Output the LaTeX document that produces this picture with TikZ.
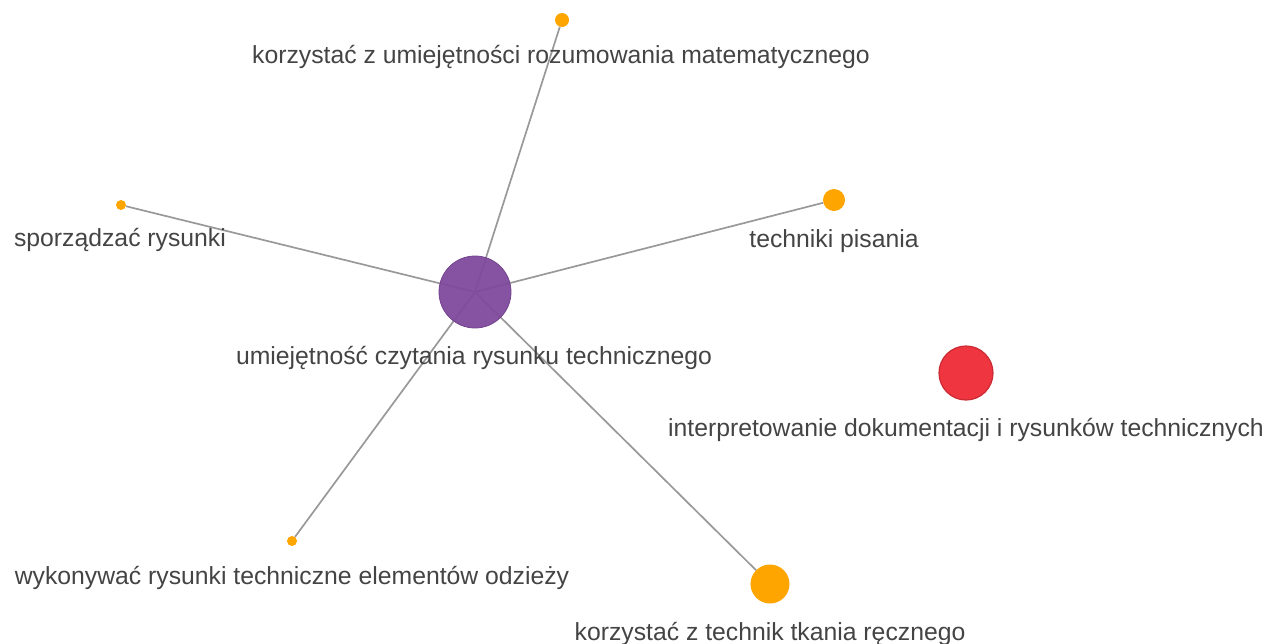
\documentclass[tikz,border=0pt]{standalone}
\usepackage{fontspec}
\setmainfont{Liberation Sans}
\definecolor{edgegray}{HTML}{999999}
\definecolor{txt}{HTML}{444444}
\definecolor{nodeorange}{HTML}{FFA500}
\definecolor{nodepurple}{HTML}{7E4A9C}
\definecolor{nodepurpleb}{HTML}{74438F}
\definecolor{nodered}{HTML}{EE3540}
\definecolor{noderedb}{HTML}{CC2A33}
\tikzset{
  dot/.style={circle, inner sep=0pt, minimum size=#1},
  orangedot/.style={dot=#1, fill=nodeorange},
  lbl/.style={anchor=base, text=txt, inner sep=0pt, font=\fontsize{24.75}{28}\selectfont},
  link/.style={draw=edgegray, line width=1.7pt},
}
\begin{document}
\begin{tikzpicture}[x=1pt,y=-1pt]
\useasboundingbox (0,0) rectangle (1266,643);
\coordinate (c) at (475,292);
\node[orangedot=14] (n1) at (562,20) {};
\node[orangedot=10] (n2) at (121,205) {};
\node[orangedot=22] (n3) at (834,200) {};
\node[orangedot=10] (n4) at (292,541) {};
\node[orangedot=39] (n5) at (770,584) {};
\foreach \n in {n1,n2,n3,n4,n5} \draw[link] (c) -- (\n);
\node[dot=72, fill=nodepurple, draw=nodepurpleb, line width=0.8pt, fill opacity=0.95] (m) at (c) {};
\node[dot=54, fill=nodered, draw=noderedb, line width=1.2pt] (r) at (966,373) {};
\node[lbl] (t1) at (561,63) {korzystać z umiejętności rozumowania matematycznego};
\node[lbl] (t2) at (120,246) {sporządzać rysunki};
\node[lbl] (t3) at (834,247) {techniki pisania};
\node[lbl] (t4) at (474,364) {umiejętność czytania rysunku technicznego};
\node[lbl] (t5) at (966,436) {interpretowanie dokumentacji i rysunków technicznych};
\node[lbl] (t6) at (292,584) {wykonywać rysunki techniczne elementów odzieży};
\node[lbl] (t7) at (770,640) {korzystać z technik tkania ręcznego};
\end{tikzpicture}
\end{document}
